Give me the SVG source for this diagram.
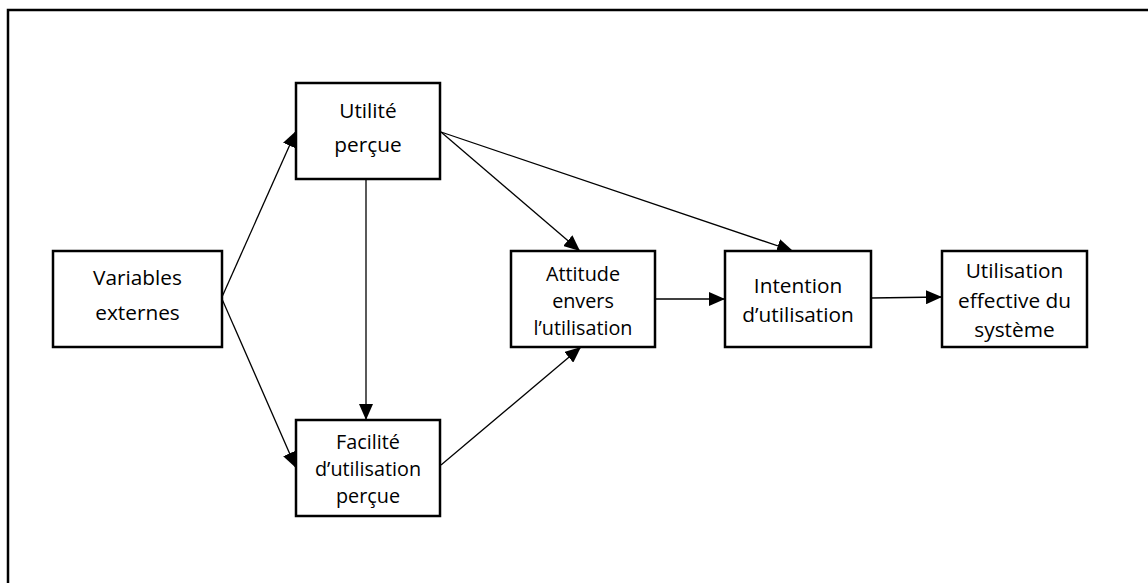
<svg xmlns="http://www.w3.org/2000/svg" width="1148" height="583" viewBox="0 0 1148 583">
  <style>
    .box { fill: #ffffff; stroke: #000000; stroke-width: 2.5; }
    .frame { fill: none; stroke: #000000; stroke-width: 2.5; }
    .edge { fill: none; stroke: #000000; stroke-width: 1.3; marker-end: url(#arrow); }
    text { font-family: "Open Sans", "Noto Sans", sans-serif; fill: #000000; text-anchor: middle; }
    .lg { font-size: 20.8px; }
    .sm { font-size: 19.8px; }
  </style>
  <defs>
    <marker id="arrow" viewBox="0 0 16 14" refX="16" refY="7" markerWidth="16" markerHeight="14" markerUnits="userSpaceOnUse" orient="auto">
      <path d="M0,0 L16,7 L0,14 Z" fill="#000000"/>
    </marker>
  </defs>

  <!-- outer frame running off the right and bottom edges -->
  <rect class="frame" x="8" y="10" width="1160" height="600"/>

  <g id="connectors">
    <line class="edge" x1="222" y1="297" x2="296" y2="131"/>
    <line class="edge" x1="222" y1="299" x2="296" y2="468"/>
    <line class="edge" x1="366" y1="179" x2="366" y2="420"/>
    <line class="edge" x1="441" y1="132" x2="580" y2="251"/>
    <line class="edge" x1="441" y1="132" x2="793" y2="251"/>
    <line class="edge" x1="441" y1="465" x2="581" y2="347"/>
    <line class="edge" x1="655" y1="299" x2="725" y2="299"/>
    <line class="edge" x1="871" y1="298" x2="942" y2="297"/>
  </g>

  <g id="variables-externes">
    <rect class="box" x="53" y="251" width="169" height="96"/>
    <text class="lg" x="137.5" y="285">Variables</text>
    <text class="lg" x="137.5" y="320">externes</text>
  </g>

  <g id="utilite-percue">
    <rect class="box" x="296" y="83" width="144" height="96"/>
    <text class="lg" x="368" y="118">Utilité</text>
    <text class="lg" x="368" y="152">perçue</text>
  </g>

  <g id="facilite-utilisation">
    <rect class="box" x="296" y="420" width="144" height="96"/>
    <text class="sm" x="368" y="449">Facilité</text>
    <text class="sm" x="368" y="476">d’utilisation</text>
    <text class="sm" x="368" y="503">perçue</text>
  </g>

  <g id="attitude">
    <rect class="box" x="511" y="251" width="144" height="96"/>
    <text class="sm" x="583" y="281">Attitude</text>
    <text class="sm" x="583" y="308">envers</text>
    <text class="sm" x="583" y="335">l’utilisation</text>
  </g>

  <g id="intention">
    <rect class="box" x="725" y="251" width="146" height="96"/>
    <text class="lg" x="798" y="293">Intention</text>
    <text class="lg" x="798" y="322">d’utilisation</text>
  </g>

  <g id="utilisation-effective">
    <rect class="box" x="942" y="251" width="145" height="96"/>
    <text class="lg" x="1014.5" y="278">Utilisation</text>
    <text class="lg" x="1014.5" y="308">effective du</text>
    <text class="lg" x="1014.5" y="337">système</text>
  </g>
</svg>
